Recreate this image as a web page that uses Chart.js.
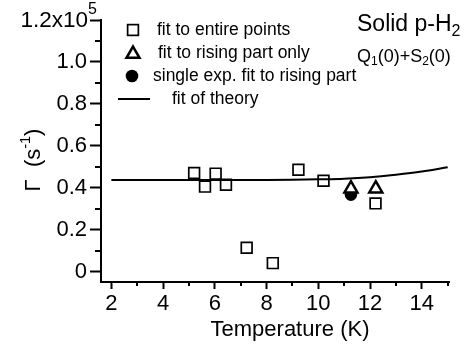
<!DOCTYPE html>
<html lang="en">
<head>
  <meta charset="UTF-8">
  <title>Solid p-H2 decay rate vs temperature</title>
  <script src="https://cdn.jsdelivr.net/npm/chart.js"></script>
  <style>
    html, body { margin: 0; padding: 0; background: #fff; }
  </style>
</head>
<body>
  <canvas id="gammaChart" width="476" height="351"></canvas>

  <script>
    // data (Gamma in units of 1e5 s^-1)
    const tempEntire = [5.20, 5.62, 6.03, 6.43, 7.23, 8.24, 9.23, 10.20, 12.21];
    const gammaEntire = [0.470, 0.405, 0.467, 0.414, 0.113, 0.040, 0.486, 0.433, 0.325];

    const tempRising = [11.26, 12.22];
    const gammaRising = [0.395, 0.395];

    const tempSingle = [11.26];
    const gammaSingle = [0.367];

    const tempTheory = [2, 4, 6, 8, 9, 10, 11, 12, 13, 14, 15];
    const gammaTheory = [0.437, 0.437, 0.437, 0.437, 0.438, 0.440, 0.443, 0.450, 0.462, 0.477, 0.497];

    const xTicks = [2, 4, 6, 8, 10, 12, 14];
    const xMinor = [3, 5, 7, 9, 11, 13, 15];
    const yTicks = [0, 0.2, 0.4, 0.6, 0.8, 1.0, 1.2];
    const yMinor = [0.1, 0.3, 0.5, 0.7, 0.9, 1.1];

    const FONT = '"Liberation Sans", Arial, Helvetica, sans-serif';
    Chart.defaults.font.family = FONT;
    Chart.defaults.color = '#000';

    const toXY = (xs, ys) => xs.map((x, i) => ({ x: x, y: ys[i] }));

    // draw a run of text pieces with their own size / vertical shift
    function richText(ctx, x, y, parts) {
      let cx = x;
      parts.forEach(p => {
        ctx.font = p[1] + 'px ' + FONT;
        ctx.fillText(p[0], cx, y + (p[2] || 0));
        cx += ctx.measureText(p[0]).width;
      });
      return cx;
    }
    function richWidth(ctx, parts) {
      let w = 0;
      parts.forEach(p => {
        ctx.font = p[1] + 'px ' + FONT;
        w += ctx.measureText(p[0]).width;
      });
      return w;
    }

    // minor ticks, titles, legend and the label in the corner
    const extras = {
      id: 'extras',
      afterDraw(chart) {
        const ctx = chart.ctx;
        const xs = chart.scales.x, ys = chart.scales.y;
        const area = chart.chartArea;
        ctx.save();
        ctx.strokeStyle = '#000';
        ctx.fillStyle = '#000';
        ctx.lineWidth = 2;

        xMinor.forEach(v => {
          const px = Math.round(xs.getPixelForValue(v));
          ctx.beginPath(); ctx.moveTo(px, area.bottom); ctx.lineTo(px, area.bottom + 4); ctx.stroke();
        });
        yMinor.forEach(v => {
          const py = Math.round(ys.getPixelForValue(v));
          ctx.beginPath(); ctx.moveTo(area.left, py); ctx.lineTo(area.left - 6, py); ctx.stroke();
        });

        // top tick label 1.2x10^5
        ctx.textBaseline = 'middle';
        ctx.textAlign = 'left';
        const yTop = ys.getPixelForValue(1.2);
        const end = richText(ctx, 88 - richWidth(ctx, [['1.2x10', 22.5]]), yTop + 1, [['1.2x10', 22.5, 0]]);
        richText(ctx, end, yTop - 10, [['5', 16, 0]]);

        // x title
        ctx.font = '22px ' + FONT;
        ctx.textAlign = 'center';
        ctx.fillText('Temperature (K)', 290, 330);
        ctx.textAlign = 'left';

        // y title, rotated
        ctx.save();
        ctx.translate(40, 160);
        ctx.rotate(-Math.PI / 2);
        ctx.textBaseline = 'alphabetic';
        const yParts = [['\u0393  (s', 22, 0], ['-1', 14.5, -10], [')', 22, 0]];
        richText(ctx, -richWidth(ctx, yParts) / 2, 0, yParts);
        ctx.restore();

        // legend
        ctx.textBaseline = 'middle';
        const ds = chart.data.datasets;
        const rows = [
          { y: 30, d: ds[2], mx: 133, tx: 157 },
          { y: 53, d: ds[0], mx: 133, tx: 158 },
          { y: 76, d: ds[1], mx: 132, tx: 153 },
          { y: 99, d: ds[3], mx: 134, tx: 172 }
        ];
        rows.forEach(r => {
          const d = r.d;
          ctx.lineWidth = d.borderWidth;
          ctx.strokeStyle = '#000';
          if (d.pointStyle === 'rect') {
            const s = d.pointRadius * Math.SQRT1_2;
            ctx.strokeRect(r.mx - s, r.y - s, 2 * s, 2 * s);
          } else if (d.pointStyle === 'triangle') {
            const rad = d.pointRadius;
            ctx.beginPath();
            for (let k = 0; k < 3; k++) {
              const a = -Math.PI / 2 + k * 2 * Math.PI / 3;
              const px = r.mx + rad * Math.cos(a), py = r.y + 1 + rad * Math.sin(a);
              if (k === 0) ctx.moveTo(px, py); else ctx.lineTo(px, py);
            }
            ctx.closePath();
            ctx.stroke();
          } else if (d.pointStyle === 'circle') {
            ctx.beginPath();
            ctx.arc(r.mx, r.y, d.pointRadius, 0, 2 * Math.PI);
            ctx.fill();
          } else {
            ctx.beginPath(); ctx.moveTo(r.mx - 16, r.y); ctx.lineTo(r.mx + 16, r.y); ctx.stroke();
          }
          ctx.font = '17.5px ' + FONT;
          ctx.fillText(d.label, r.tx, r.y);
        });

        // sample label
        richText(ctx, 357, 25, [['Solid p-H', 23, 0], ['2', 16, 7]]);
        richText(ctx, 357, 57, [['Q', 18, 0], ['1', 12, 5], ['(0)+S', 18, 0], ['2', 12, 5], ['(0)', 18, 0]]);

        ctx.restore();
      }
    };

    const ctx = document.getElementById('gammaChart').getContext('2d');
    const gammaChart = new Chart(ctx, {
      type: 'scatter',
      data: {
        datasets: [
          {
            label: 'fit to rising part only',
            data: toXY(tempRising, gammaRising),
            pointStyle: 'triangle',
            pointRadius: 7.5,
            borderWidth: 2.5,
            borderColor: '#000',
            backgroundColor: '#fff'
          },
          {
            label: 'single exp. fit to rising part',
            data: toXY(tempSingle, gammaSingle),
            pointStyle: 'circle',
            pointRadius: 6.3,
            borderWidth: 0,
            borderColor: '#000',
            backgroundColor: '#000'
          },
          {
            label: 'fit to entire points',
            data: toXY(tempEntire, gammaEntire),
            pointStyle: 'rect',
            pointRadius: 7.6,
            borderWidth: 1.7,
            borderColor: '#000',
            backgroundColor: 'rgba(0,0,0,0)'
          },
          {
            label: 'fit of theory',
            data: toXY(tempTheory, gammaTheory),
            showLine: true,
            pointRadius: 0,
            borderWidth: 2,
            borderColor: '#000',
            cubicInterpolationMode: 'monotone'
          }
        ]
      },
      options: {
        responsive: false,
        animation: false,
        layout: { padding: { top: 20, right: 27, left: 0, bottom: 0 } },
        plugins: {
          legend: { display: false },
          tooltip: { enabled: false }
        },
        scales: {
          x: {
            type: 'linear',
            min: 1.6,
            max: 15.05,
            afterBuildTicks: s => { s.ticks = xTicks.map(v => ({ value: v })); },
            afterFit: s => { s.height = 69; },
            ticks: { font: { size: 22 }, color: '#000', padding: 2, maxRotation: 0, autoSkip: false },
            grid: { drawOnChartArea: false, tickLength: 7, tickWidth: 2, tickColor: '#000' },
            border: { color: '#000', width: 2 }
          },
          y: {
            type: 'linear',
            min: -0.05,
            max: 1.2,
            afterBuildTicks: s => { s.ticks = yTicks.map(v => ({ value: v })); },
            afterFit: s => { s.width = 101; },
            ticks: {
              font: { size: 22 },
              color: '#000',
              padding: 3,
              autoSkip: false,
              callback: v => v === 0 ? '0' : (v > 1.1 ? '' : v.toFixed(1))
            },
            grid: { drawOnChartArea: false, tickLength: 11, tickWidth: 2, tickColor: '#000' },
            border: { color: '#000', width: 2 }
          }
        }
      },
      plugins: [extras]
    });
  </script>
</body>
</html>
